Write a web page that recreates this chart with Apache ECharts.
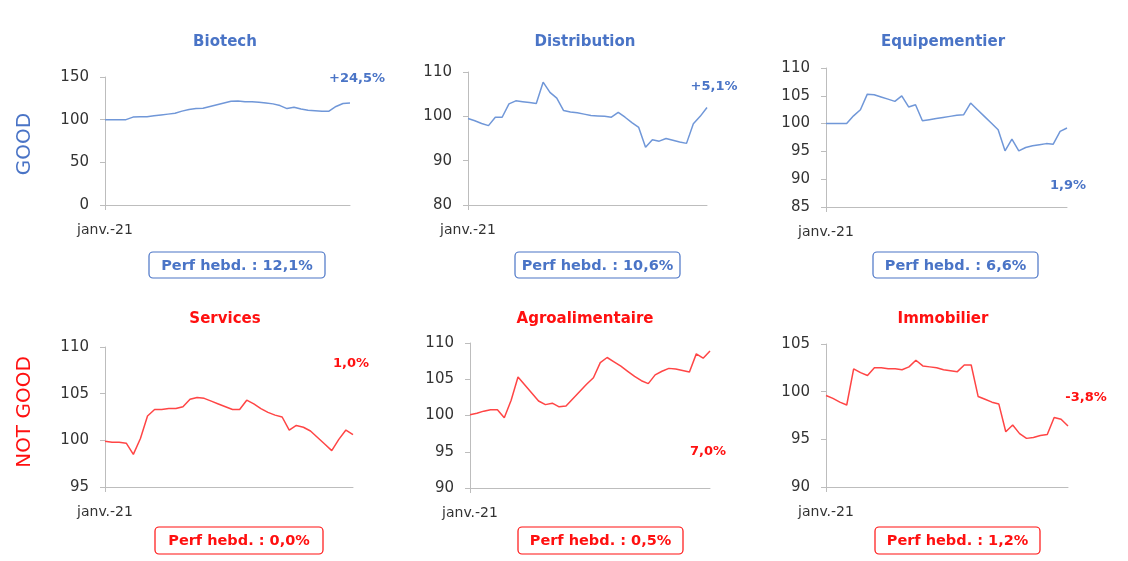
<!DOCTYPE html>
<html>
<head>
<meta charset="utf-8">
<script src="https://cdn.jsdelivr.net/npm/echarts@6/dist/echarts.min.js"></script>
<style>
  html, body { margin: 0; padding: 0; background: #fff; }
  #chart { width: 1128px; height: 561px; }
</style>
</head>
<body>
<div id="chart"></div>
<script>
  // 36 points hebdomadaires, base 100 en janv.-21
  const weeks = ['janv.-21'].concat(Array(35).fill(''));

  const biotech = [100, 100, 100, 100, 103, 103.5, 103.5, 104.5, 105.5, 106.5, 107.5, 110, 112, 113, 113.5, 115.5, 117.5, 119.5,
    121.5, 122, 121, 121, 120.5, 119.5, 118.5, 116.5, 113, 114.5, 112.5, 111, 110.5, 110, 110, 115.5, 119, 119.5];
  const distribution = [99.5, 99.0, 98.4, 97.9, 99.8, 99.8, 102.8, 103.5, 103.3, 103.1, 102.9, 107.7, 105.4, 104.1, 101.3, 101.0,
    100.8, 100.5, 100.2, 100.1, 100.0, 99.8, 100.9, 99.8, 98.6, 97.5, 93.0, 94.7, 94.4, 95.0, 94.6, 94.2, 93.9, 98.3, 100.0, 102.0];
  const equipementier = [100, 100, 100, 100, 101.4, 102.5, 105.3, 105.2, 104.8, 104.4, 104.0, 105.0, 103.0, 103.4, 100.5, 100.7,
    100.9, 101.1, 101.3, 101.5, 101.6, 103.7, 102.5, 101.3, 100.1, 98.9, 95.1, 97.2, 95.1, 95.7, 96.0, 96.2, 96.4, 96.3, 98.6, 99.2];
  const services = [99.9, 99.8, 99.8, 99.7, 98.5, 100.2, 102.6, 103.3, 103.3, 103.4, 103.4, 103.6, 104.4, 104.6, 104.5, 104.2,
    103.9, 103.6, 103.3, 103.3, 104.3, 103.9, 103.4, 103.0, 102.7, 102.5, 101.1, 101.6, 101.4, 101.0, 100.3, 99.6, 98.9, 100.1, 101.1, 100.6];
  const agro = [100.1, 100.3, 100.6, 100.8, 100.8, 99.7, 102.1, 105.3, 104.2, 103.1, 102.0, 101.5, 101.7, 101.2, 101.3, 102.3,
    103.3, 104.3, 105.2, 107.3, 108.0, 107.4, 106.8, 106.1, 105.4, 104.8, 104.4, 105.6, 106.1, 106.5, 106.4, 106.2, 106.0, 108.5, 107.9, 108.9];
  const immobilier = [99.6, 99.3, 98.9, 98.6, 102.4, 102.0, 101.7, 102.5, 102.5, 102.4, 102.4, 102.3, 102.6, 103.3, 102.7, 102.6,
    102.5, 102.3, 102.2, 102.1, 102.8, 102.8, 99.5, 99.2, 98.9, 98.7, 95.8, 96.5, 95.6, 95.1, 95.2, 95.4, 95.5, 97.3, 97.1, 96.4];

  const sectors = ['Biotech', 'Distribution', 'Equipementier', 'Services', 'Agroalimentaire', 'Immobilier'];
  const perfTotal = ['+24,5%', '+5,1%', '1,9%', '1,0%', '7,0%', '-3,8%'];
  const perfHebdo = ['12,1%', '10,6%', '6,6%', '0,0%', '0,5%', '1,2%'];
  const yMin = [0, 80, 85, 95, 90, 90];
  const yMax = [150, 110, 110, 110, 110, 105];
  const yStep = [50, 10, 5, 5, 5, 5];
  const allSeries = [biotech, distribution, equipementier, services, agro, immobilier];

  const BLUE = '#4a74c6';
  const BLUE_LINE = '#7097d8';
  const RED = '#ff1010';
  const RED_LINE = '#ff4545';
  const FONT = 'DejaVu Sans';

  // layout (px) of each panel
  const grids = [
    { left: 105, top: 77, width: 245, height: 128 },
    { left: 468, top: 72, width: 239, height: 133 },
    { left: 826, top: 68, width: 241, height: 139 },
    { left: 105, top: 347, width: 248, height: 140 },
    { left: 470, top: 343, width: 240, height: 145 },
    { left: 826, top: 344, width: 242, height: 143 }
  ];
  const titlePos = [[225, 42], [585, 42], [943, 42], [225, 319], [585, 319], [943, 319]];
  const notePos = [[357, 79], [714, 87], [1068, 186], [351, 364], [708, 452], [1086, 398]];
  const boxes = [[149, 252, 176, 26], [515, 252, 165, 26], [873, 252, 165, 26],
    [155, 527, 168, 27], [518, 527, 165, 27], [875, 527, 165, 27]];

  const chart = echarts.init(document.getElementById('chart'));

  const graphic = [];
  sectors.forEach((name, i) => {
    const good = i < 3;
    const col = good ? BLUE : RED;
    graphic.push({
      type: 'text', x: titlePos[i][0], y: titlePos[i][1],
      style: { text: name, fill: col, font: 'bold 15px ' + FONT, align: 'center', verticalAlign: 'middle' }
    });
    graphic.push({
      type: 'text', x: notePos[i][0], y: notePos[i][1],
      style: { text: perfTotal[i], fill: col, font: 'bold 13px ' + FONT, align: 'center', verticalAlign: 'middle' }
    });
    const b = boxes[i];
    graphic.push({
      type: 'rect', shape: { x: b[0], y: b[1], width: b[2], height: b[3], r: 4 },
      style: { fill: '#fff', stroke: col, lineWidth: 1.2 }
    });
    graphic.push({
      type: 'text', x: b[0] + b[2] / 2, y: b[1] + b[3] / 2 + 1,
      style: { text: 'Perf hebd. : ' + perfHebdo[i], fill: col, font: 'bold 14.5px ' + FONT, align: 'center', verticalAlign: 'middle' }
    });
  });
  graphic.push({
    type: 'text', x: 25, y: 144, rotation: Math.PI / 2,
    style: { text: 'GOOD', fill: BLUE, font: '20px ' + FONT, align: 'center', verticalAlign: 'middle' }
  });
  graphic.push({
    type: 'text', x: 25, y: 412, rotation: Math.PI / 2,
    style: { text: 'NOT GOOD', fill: RED, font: '20px ' + FONT, align: 'center', verticalAlign: 'middle' }
  });

  chart.setOption({
    animation: false,
    textStyle: { fontFamily: FONT },
    grid: grids,
    xAxis: grids.map((g, i) => ({
      type: 'category',
      gridIndex: i,
      data: weeks,
      boundaryGap: false,
      axisLine: { lineStyle: { color: '#bdbdbd', width: 1 } },
      axisTick: { show: true, interval: (idx) => idx === 0, length: 5, lineStyle: { color: '#bdbdbd' } },
      axisLabel: { interval: 0, color: '#333', fontSize: 14, margin: 18 }
    })),
    yAxis: grids.map((g, i) => ({
      type: 'value',
      gridIndex: i,
      min: yMin[i],
      max: yMax[i],
      interval: yStep[i],
      splitLine: { show: false },
      axisLine: { show: true, lineStyle: { color: '#bdbdbd', width: 1 } },
      axisTick: { show: true, length: 5, lineStyle: { color: '#bdbdbd' } },
      axisLabel: { color: '#333', fontSize: 15, margin: 16 }
    })),
    series: allSeries.map((data, i) => ({
      name: sectors[i],
      type: 'line',
      xAxisIndex: i,
      yAxisIndex: i,
      data: data,
      symbol: 'none',
      lineStyle: { color: i < 3 ? BLUE_LINE : RED_LINE, width: 1.5 }
    })),
    graphic: graphic
  });
</script>
</body>
</html>
